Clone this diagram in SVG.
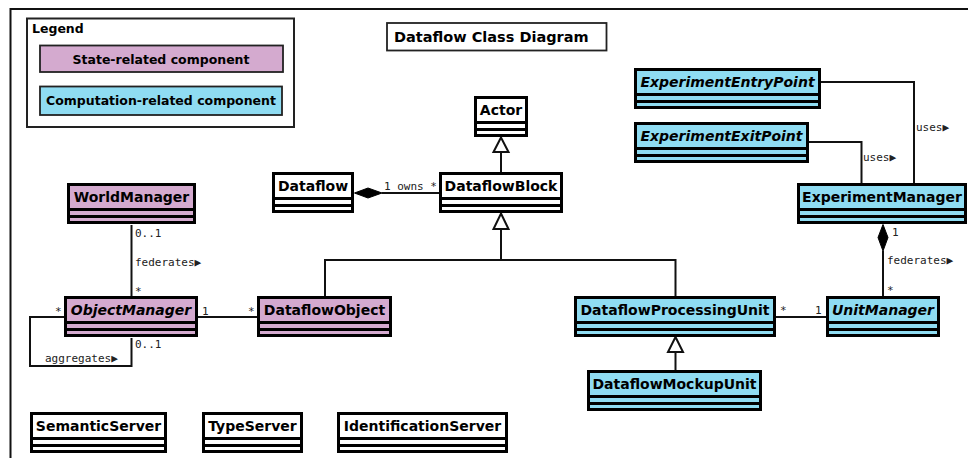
<svg xmlns="http://www.w3.org/2000/svg" width="968" height="458" viewBox="0 0 968 458">
<defs>
<style>
.frame{fill:none;stroke:#111;stroke-width:2}
.box{stroke:#000;stroke-width:3}
.sep{stroke:#000;stroke-width:3}
.w{fill:#fff}
.p{fill:#D4AACF}
.c{fill:#8FDCF2}
.name{font-family:"DejaVu Sans",sans-serif;font-weight:bold;font-size:14px;fill:#000;text-anchor:middle}
.it{font-style:italic}
.lbl{font-family:"DejaVu Sans Mono",monospace;font-size:11px;fill:#222}
.conn{fill:none;stroke:#111;stroke-width:2}
.gen{fill:#fff;stroke:#111;stroke-width:2}
.comp{fill:#000;stroke:#000;stroke-width:1}
.leg{font-family:"DejaVu Sans",sans-serif;font-weight:bold;font-size:12.5px;fill:#000}
</style>
</defs>
<rect width="968" height="458" fill="#fff"/>
<path class="frame" d="M10.5 458 V9 H968"/>

<g id="legend">
<rect x="27" y="18.5" width="267" height="108.5" fill="#fff" stroke="#222" stroke-width="2"/>
<text class="leg" x="32" y="33">Legend</text>
<rect x="40" y="45.5" width="243" height="26.5" fill="#D4AACF" stroke="#222" stroke-width="1.8"/>
<text class="leg" x="161" y="64" text-anchor="middle">State-related component</text>
<rect x="40" y="86.5" width="242" height="28.5" fill="#8FDCF2" stroke="#222" stroke-width="1.8"/>
<text class="leg" x="161" y="105" text-anchor="middle">Computation-related component</text>
</g>

<g id="title">
<rect x="387" y="23" width="219.5" height="27.5" fill="#fff" stroke="#222" stroke-width="1.8"/>
<text x="394" y="42" font-family="DejaVu Sans, sans-serif" font-weight="bold" font-size="14.5" fill="#000">Dataflow Class Diagram</text>
</g>

<g id="connectors">
<!-- Actor <- DataflowBlock -->
<line class="conn" x1="501" y1="152" x2="501" y2="172"/>
<polygon class="gen" points="501,137.5 508.5,152 493.5,152"/>
<!-- Dataflow owns DataflowBlock -->
<line class="conn" x1="382" y1="193" x2="439" y2="193"/>
<polygon class="comp" points="354.5,193 368,188 382,193 368,198"/>
<text class="lbl" x="384" y="190">1 owns *</text>
<!-- generalization tree to DataflowBlock -->
<path class="conn" d="M325 296 V260 H675.5 V296 M501 229 V260"/>
<polygon class="gen" points="501,213.5 508.5,229 493.5,229"/>
<!-- WorldManager federates ObjectManager -->
<line class="conn" x1="131.5" y1="225" x2="131.5" y2="296"/>
<text class="lbl" x="135" y="237">0..1</text>
<text class="lbl" x="135" y="266">federates▶</text>
<text class="lbl" x="135" y="295">*</text>
<!-- ObjectManager - DataflowObject -->
<line class="conn" x1="198" y1="317" x2="257" y2="317"/>
<text class="lbl" x="202" y="315">1</text>
<text class="lbl" x="248" y="315">*</text>
<!-- aggregates self loop -->
<path class="conn" d="M64 317 H30 V366 H131.5 V338"/>
<text class="lbl" x="55" y="315">*</text>
<text class="lbl" x="135" y="347.5">0..1</text>
<text class="lbl" x="45" y="362">aggregates▶</text>
<!-- DPU - UnitManager -->
<line class="conn" x1="776" y1="317" x2="826" y2="317"/>
<text class="lbl" x="780" y="314">*</text>
<text class="lbl" x="815" y="314">1</text>
<!-- DPU <- DataflowMockupUnit -->
<line class="conn" x1="675.5" y1="352" x2="675.5" y2="370"/>
<polygon class="gen" points="675.5,337 683,352 668,352"/>
<!-- ExperimentManager federates UnitManager -->
<line class="conn" x1="883" y1="251" x2="883" y2="296"/>
<polygon class="comp" points="883,224.5 888,237.5 883,251 878,237.5"/>
<text class="lbl" x="892" y="236">1</text>
<text class="lbl" x="887" y="264">federates▶</text>
<text class="lbl" x="887" y="294">*</text>
<!-- uses -->
<path class="conn" d="M821 82 H914 V183"/>
<text class="lbl" x="916" y="131">uses▶</text>
<path class="conn" d="M809 142 H861.5 V183"/>
<text class="lbl" x="863" y="160.5">uses▶</text>
</g>

<g id="Actor">
<rect class="box w" x="475.5" y="97.5" width="51" height="38"/>
<line class="sep" x1="475.5" y1="122.5" x2="526.5" y2="122.5"/>
<line class="sep" x1="475.5" y1="129.5" x2="526.5" y2="129.5"/>
<text class="name" x="501" y="115">Actor</text>
</g>

<g id="DataflowBlock">
<rect class="box w" x="440.5" y="173.5" width="121" height="38"/>
<line class="sep" x1="440.5" y1="198.5" x2="561.5" y2="198.5"/>
<line class="sep" x1="440.5" y1="205.5" x2="561.5" y2="205.5"/>
<text class="name" x="501" y="191">DataflowBlock</text>
</g>

<g id="Dataflow">
<rect class="box w" x="273.5" y="173.5" width="79" height="38"/>
<line class="sep" x1="273.5" y1="198.5" x2="352.5" y2="198.5"/>
<line class="sep" x1="273.5" y1="205.5" x2="352.5" y2="205.5"/>
<text class="name" x="313" y="191">Dataflow</text>
</g>

<g id="WorldManager">
<rect class="box p" x="68.5" y="184.5" width="126" height="38"/>
<line class="sep" x1="68.5" y1="209.5" x2="194.5" y2="209.5"/>
<line class="sep" x1="68.5" y1="216.5" x2="194.5" y2="216.5"/>
<text class="name" x="131.5" y="202">WorldManager</text>
</g>

<g id="ObjectManager">
<rect class="box p" x="65.5" y="297.5" width="131" height="38"/>
<line class="sep" x1="65.5" y1="322.5" x2="196.5" y2="322.5"/>
<line class="sep" x1="65.5" y1="329.5" x2="196.5" y2="329.5"/>
<text class="name it" x="131" y="315">ObjectManager</text>
</g>

<g id="DataflowObject">
<rect class="box p" x="258.5" y="297.5" width="132" height="38"/>
<line class="sep" x1="258.5" y1="322.5" x2="390.5" y2="322.5"/>
<line class="sep" x1="258.5" y1="329.5" x2="390.5" y2="329.5"/>
<text class="name" x="324.5" y="315">DataflowObject</text>
</g>

<g id="DataflowProcessingUnit">
<rect class="box c" x="575.5" y="297.5" width="199" height="38"/>
<line class="sep" x1="575.5" y1="322.5" x2="774.5" y2="322.5"/>
<line class="sep" x1="575.5" y1="329.5" x2="774.5" y2="329.5"/>
<text class="name" x="675" y="315">DataflowProcessingUnit</text>
</g>

<g id="UnitManager">
<rect class="box c" x="827.5" y="297.5" width="111" height="38"/>
<line class="sep" x1="827.5" y1="322.5" x2="938.5" y2="322.5"/>
<line class="sep" x1="827.5" y1="329.5" x2="938.5" y2="329.5"/>
<text class="name it" x="883" y="315">UnitManager</text>
</g>

<g id="DataflowMockupUnit">
<rect class="box c" x="588.5" y="371.5" width="172" height="38"/>
<line class="sep" x1="588.5" y1="396.5" x2="760.5" y2="396.5"/>
<line class="sep" x1="588.5" y1="403.5" x2="760.5" y2="403.5"/>
<text class="name" x="674.5" y="389">DataflowMockupUnit</text>
</g>

<g id="ExperimentManager">
<rect class="box c" x="798.5" y="184.5" width="167" height="38"/>
<line class="sep" x1="798.5" y1="209.5" x2="965.5" y2="209.5"/>
<line class="sep" x1="798.5" y1="216.5" x2="965.5" y2="216.5"/>
<text class="name" x="882" y="202">ExperimentManager</text>
</g>

<g id="ExperimentEntryPoint">
<rect class="box c" x="635.5" y="69.5" width="184" height="38"/>
<line class="sep" x1="635.5" y1="94.5" x2="819.5" y2="94.5"/>
<line class="sep" x1="635.5" y1="101.5" x2="819.5" y2="101.5"/>
<text class="name it" x="727.5" y="87">ExperimentEntryPoint</text>
</g>

<g id="ExperimentExitPoint">
<rect class="box c" x="635.5" y="123.5" width="172" height="38"/>
<line class="sep" x1="635.5" y1="148.5" x2="807.5" y2="148.5"/>
<line class="sep" x1="635.5" y1="155.5" x2="807.5" y2="155.5"/>
<text class="name it" x="721.5" y="141">ExperimentExitPoint</text>
</g>

<g id="SemanticServer">
<rect class="box w" x="31.5" y="413.5" width="134" height="38"/>
<line class="sep" x1="31.5" y1="438.5" x2="165.5" y2="438.5"/>
<line class="sep" x1="31.5" y1="445.5" x2="165.5" y2="445.5"/>
<text class="name" x="98.5" y="431">SemanticServer</text>
</g>

<g id="TypeServer">
<rect class="box w" x="203.5" y="413.5" width="98" height="38"/>
<line class="sep" x1="203.5" y1="438.5" x2="301.5" y2="438.5"/>
<line class="sep" x1="203.5" y1="445.5" x2="301.5" y2="445.5"/>
<text class="name" x="252.5" y="431">TypeServer</text>
</g>

<g id="IdentificationServer">
<rect class="box w" x="338.5" y="413.5" width="168" height="38"/>
<line class="sep" x1="338.5" y1="438.5" x2="506.5" y2="438.5"/>
<line class="sep" x1="338.5" y1="445.5" x2="506.5" y2="445.5"/>
<text class="name" x="422.5" y="431">IdentificationServer</text>
</g>
</svg>
